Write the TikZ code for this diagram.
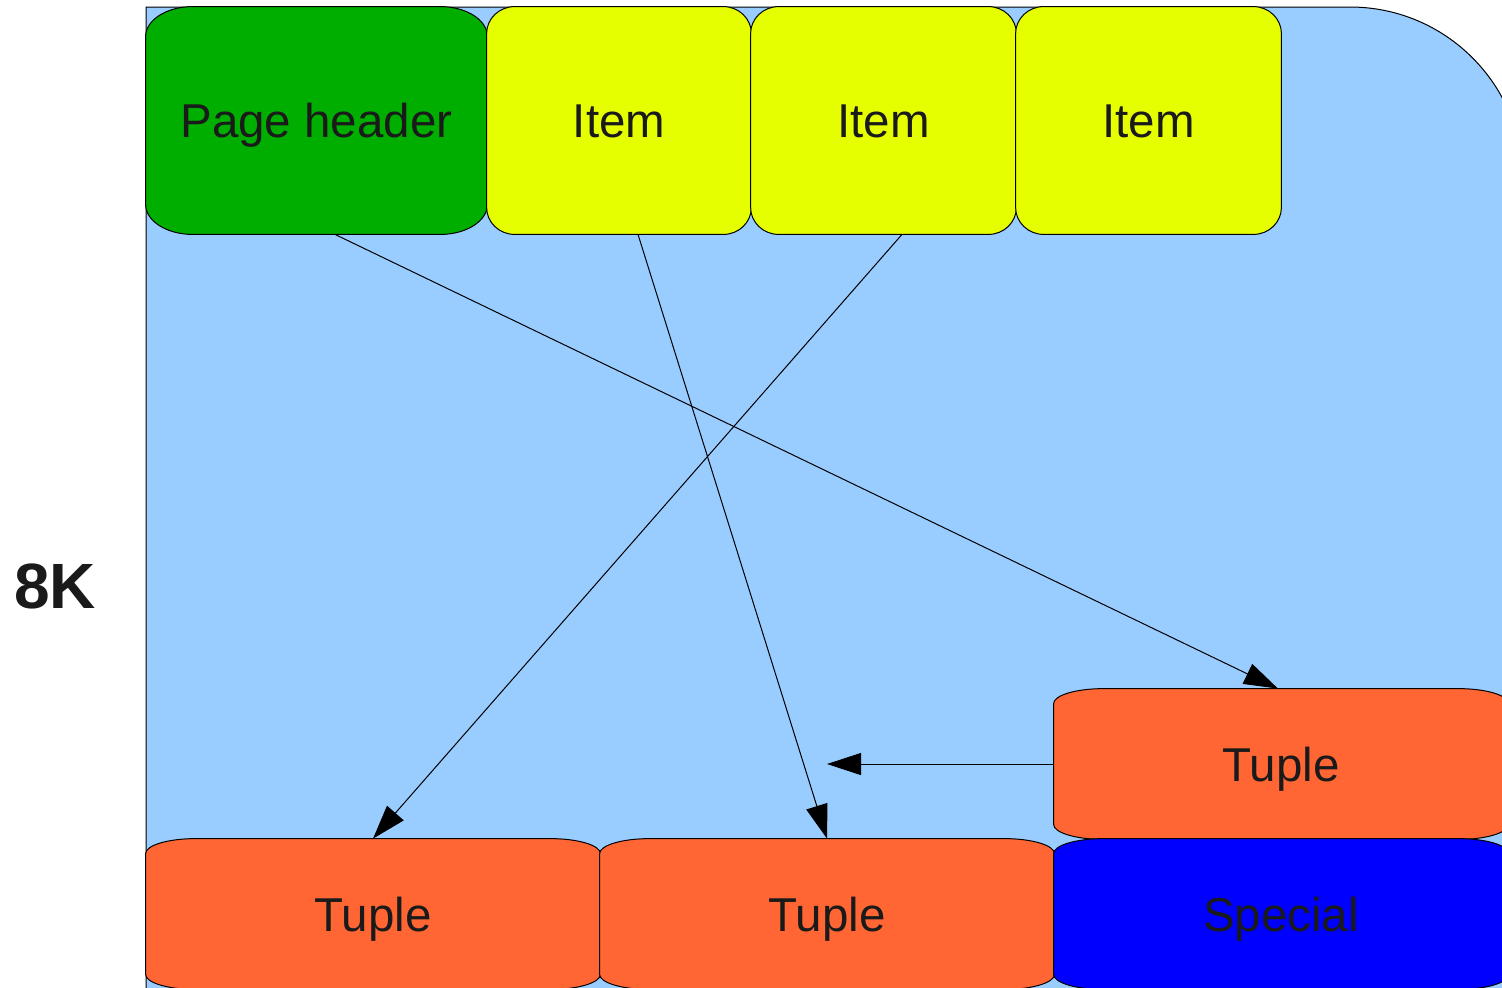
\documentclass[tikz,border=0pt]{standalone}
\usepackage{fontspec}
\setmainfont{Liberation Sans}
\usetikzlibrary{arrows.meta}
\pgfdeclarelayer{back}
\pgfdeclarelayer{boxes}
\pgfsetlayers{back,boxes,main}
\definecolor{pagebg}{HTML}{99CCFF}
\definecolor{hdrgreen}{HTML}{00AE00}
\definecolor{itemyel}{HTML}{E6FF00}
\definecolor{tupor}{HTML}{FF6633}
\definecolor{spblue}{HTML}{0000FF}
\definecolor{txt}{HTML}{1A1A1A}
\newcommand\ebox[4]{%
  \filldraw[fill=#4,draw=black,line width=0.5pt]
  ([xshift=#2]#1.north west) -- ([xshift=-#2]#1.north east)
  arc[start angle=90,end angle=0,x radius=#2,y radius=#3]
  -- ([yshift=#3]#1.south east)
  arc[start angle=0,end angle=-90,x radius=#2,y radius=#3]
  -- ([xshift=#2]#1.south west)
  arc[start angle=270,end angle=180,x radius=#2,y radius=#3]
  -- ([yshift=-#3]#1.north west)
  arc[start angle=180,end angle=90,x radius=#2,y radius=#3] -- cycle;}
\begin{document}
\begin{tikzpicture}[x=0.5pt,y=-0.5pt,
  box/.style={rectangle,inner sep=0pt,text=txt,text height=17pt,text depth=0pt,font=\fontsize{23.75}{28}\selectfont},
  topbox/.style={box,minimum height=113.5pt},
  tupbox/.style={box,minimum width=227pt,minimum height=75pt},
  arr/.style={line width=0.5pt,draw=black,-{Triangle[length=17pt,width=11pt]}}]
\useasboundingbox (0,0) rectangle (1502,987);
\clip (0,0) rectangle (1502,987);
\begin{pgfonlayer}{back}
  \filldraw[fill=pagebg,draw=black,line width=0.5pt]
    (146,1100) -- (146,7) -- (1350,7) arc[start angle=90,end angle=0,radius=86.5pt] -- (1523,1100) -- cycle;
\end{pgfonlayer}
\node[topbox,minimum width=170.5pt] (ph) at (316.5,120.5) {Page header};
\node[topbox,minimum width=132pt] (it1) at (619,120.5) {Item};
\node[topbox,minimum width=132.5pt] (it2) at (883.5,120.5) {Item};
\node[topbox,minimum width=132.5pt] (it3) at (1148.5,120.5) {Item};
\node[tupbox] (tr) at (1281,764) {Tuple};
\node[tupbox] (t1) at (373,914) {Tuple};
\node[tupbox] (t2) at (827,914) {Tuple};
\node[tupbox] (sp) at (1281,914) {Special};
\node[text=txt,font=\bfseries\fontsize{32}{38}\selectfont,inner sep=0pt,text height=23pt,text depth=0pt] (size) at (55,585) {8K};
\begin{pgfonlayer}{boxes}
  \ebox{ph}{23.5pt}{15pt}{hdrgreen}
  \ebox{it1}{14pt}{13.5pt}{itemyel}
  \ebox{it2}{14pt}{13.5pt}{itemyel}
  \ebox{it3}{14pt}{13.5pt}{itemyel}
  \ebox{tr}{25pt}{7.5pt}{tupor}
  \ebox{t1}{25pt}{7.5pt}{tupor}
  \ebox{t2}{25pt}{7.5pt}{tupor}
  \ebox{sp}{25pt}{7.5pt}{spblue}
\end{pgfonlayer}
\coordinate (hend) at (827,764);
\draw[arr] ([xshift=9.25pt]ph.south) -- ([xshift=-1.5pt]tr.north);
\draw[arr] ([xshift=9.5pt]it1.south) -- (t2.north);
\draw[arr] ([xshift=9.25pt]it2.south) -- (t1.north);
\draw[arr] (tr.west) -- (hend);
\end{tikzpicture}
\end{document}
